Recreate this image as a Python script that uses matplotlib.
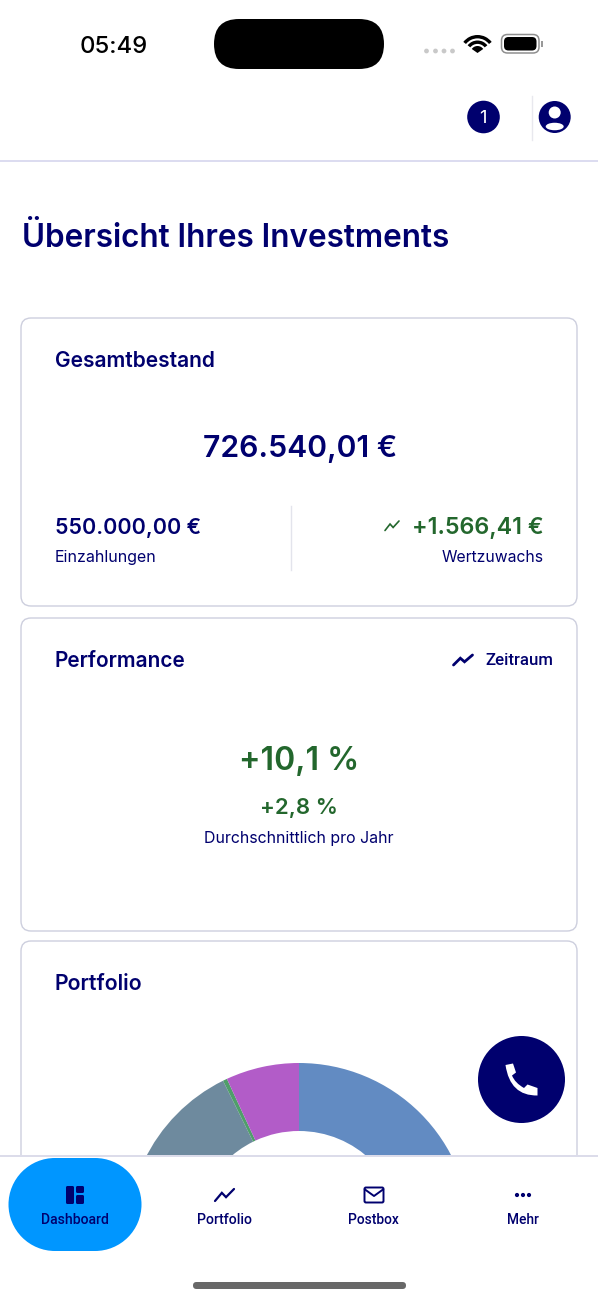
import matplotlib
matplotlib.use("Agg")
import matplotlib.pyplot as plt
from matplotlib.patches import FancyBboxPatch, Circle, Rectangle, Wedge, Ellipse, PathPatch
from matplotlib.path import Path

NAVY = "#00006E"
GREEN = "#23672D"
EDGE = "#CDCFDE"
FONT = ["Inter", "Roboto", "DejaVu Sans"]
NARROW = ["Roboto", "Inter", "DejaVu Sans"]

# Donut values (share of the full circle, clockwise from 12 o'clock; hidden part estimated)
portfolio_labels = ["Blue", "Grey", "Green", "Purple"]
portfolio_values = [50.0, 42.7, 0.4, 6.9]
portfolio_colors = ["#628BC2", "#6E8A9E", "#4F9E6A", "#B25CC8"]

nav_labels = ["Dashboard", "Portfolio", "Postbox", "Mehr"]

W, H = 598, 1300
fig = plt.figure(figsize=(W / 100, H / 100), dpi=100, facecolor="white")
ax = fig.add_axes([0, 0, 1, 1], zorder=1)
ax.set_xlim(0, W)
ax.set_ylim(H, 0)
ax.axis("off")
ax.patch.set_alpha(0)
renderer = fig.canvas.get_renderer()


def put(s, x0, x1, base, color=NAVY, weight=600, family=FONT, z=10):
    """Real text, sized so it spans x0..x1 with its baseline at base."""
    t = ax.text(x0, base, s, color=color, fontsize=20, fontweight=weight,
                family=family, ha="left", va="baseline", zorder=z)
    w = t.get_window_extent(renderer).width
    t.set_fontsize(20 * (x1 - x0) / w)
    return t


def rrect(x0, y0, x1, y1, r, fc="none", ec="none", lw=0, z=2):
    p = FancyBboxPatch((x0 + r, y0 + r), x1 - x0 - 2 * r, y1 - y0 - 2 * r,
                       boxstyle=f"round,pad={r},rounding_size={r}",
                       fc=fc, ec=ec, lw=lw, zorder=z)
    ax.add_patch(p)
    return p


def trend(x0, x1, y0, y1, color, lw, z=10):
    w, h = x1 - x0, y1 - y0
    ax.plot([x0, x0 + .36 * w, x0 + .58 * w, x1],
            [y1, y0 + .32 * h, y0 + .68 * h, y0],
            color=color, lw=lw, solid_capstyle="round", solid_joinstyle="miter", zorder=z)


# cards
rrect(21, 318, 577, 606, 10, fc="white", ec=EDGE, lw=1.0)
rrect(21, 618, 577, 931, 10, fc="white", ec=EDGE, lw=1.0)
rrect(21, 941, 577, 1250, 10, fc="white", ec=EDGE, lw=1.0)
ax.plot([291, 291], [506, 570], color="#E3E4EC", lw=1, zorder=3)

# donut
R, cx, cy = 171.6, 299, 1234.6
dax = fig.add_axes([(cx - R) / W, 1 - (cy + R) / H, 2 * R / W, 2 * R / H], zorder=2)
dax.pie(portfolio_values, colors=portfolio_colors, startangle=90, counterclock=False,
        radius=1, wedgeprops=dict(width=1 - 103.6 / R, lw=0))
dax.set_xlim(-1, 1)
dax.set_ylim(-1, 1)
dax.set_aspect("equal")
dax.axis("off")

# overlay axes on top of the donut for the navigation and floating button
top = fig.add_axes([0, 0, 1, 1], zorder=3)
top.set_xlim(0, W)
top.set_ylim(H, 0)
top.axis("off")
top.patch.set_alpha(0)
ax = top

# header
ax.add_patch(Rectangle((0, 0), W, 161, fc="white", ec="none", zorder=1))
ax.plot([0, W], [161, 161], color="#D2D2EC", lw=1.1, zorder=3)
put("05:49", 80, 148, 53, color="black", weight=500)
rrect(214, 19, 384, 69, 25, fc="black", z=5)
for x in (426.5, 435.5, 444, 452.5):
    ax.add_patch(Circle((x, 51), 2.4, fc="#C9C9C9", ec="none", zorder=5))
for r, (a0, a1) in zip((18, 12.5, 7), ((-142, -38), (-142, -38), (-145, -35))):
    ax.add_patch(Wedge((477.5, 53), r, a0, a1, width=3.4 if r > 8 else 7, fc="black", ec="none", zorder=5))
rrect(501.5, 34.5, 539, 53, 6, fc="white", ec="#8F8F8F", lw=1.1, z=5)
rrect(504, 37, 536.5, 50.5, 4.5, fc="black", z=6)
ax.add_patch(Rectangle((541, 41), 1.8, 6, fc="#999999", ec="none", zorder=5))
ax.add_patch(Circle((483.5, 117), 16.3, fc=NAVY, ec="none", zorder=5))
put("1", 479.5, 487, 123, color="white", weight=400)
ax.plot([532, 532], [96, 140], color="#E8E8EE", lw=1, zorder=3)
ax.add_patch(Circle((554.7, 117), 16, fc=NAVY, ec="none", zorder=5))
ax.add_patch(Circle((554.7, 112.5), 6, fc="white", ec="none", zorder=6))
ax.add_patch(Ellipse((554.7, 126.5), 18, 7.5, fc="white", ec="none", zorder=6))

# texts
put("Übersicht Ihres Investments", 22, 450, 247)
put("Gesamtbestand", 55, 215, 367)
put("726.540,01 €", 203, 397, 457)
put("550.000,00 €", 55, 200, 534)
put("Einzahlungen", 55, 156, 562, weight=400)
trend(385, 399, 521, 530.5, GREEN, 1.2)
put("+1.566,41 €", 412, 544, 534, color=GREEN)
put("Wertzuwachs", 442, 544, 562, weight=400)
put("Performance", 55, 186, 667)
trend(453.5, 472.5, 655, 665, NAVY, 2)
put("Zeitraum", 485, 553, 665, family=NARROW, weight=500)
put("+10,1 %", 239, 359, 770, color=GREEN)
put("+2,8 %", 260, 338, 814, color=GREEN)
put("Durchschnittlich pro Jahr", 204, 394, 843, weight=400)
put("Portfolio", 55, 143, 990)

# floating phone button
ax.add_patch(Circle((521.5, 1079.5), 43.5, fc=NAVY, ec="none", zorder=5))
phone = Path([(505.5, 1065), (513, 1063.5), (516, 1072.5), (512, 1075.5),
              (515, 1083), (524, 1088), (527.5, 1084.5), (537.5, 1088), (537.5, 1095.5),
              (510, 1096), (505.5, 1065), (505.5, 1065)],
             [Path.MOVETO, Path.LINETO, Path.LINETO, Path.LINETO,
              Path.CURVE3, Path.CURVE3, Path.LINETO, Path.LINETO, Path.LINETO,
              Path.CURVE3, Path.CURVE3, Path.CLOSEPOLY])
ax.add_patch(PathPatch(phone, fc="white", ec="none", zorder=6))

# bottom navigation
ax.add_patch(Rectangle((0, 1155), W, H - 1155, fc="white", ec="none", zorder=4))
ax.plot([0, W], [1155.5, 1155.5], color="#D2D2E4", lw=1.1, zorder=5)
# stadium-shaped active tab
ax.add_patch(Circle((55, 1204.5), 46.5, fc="#0096FF", ec="none", zorder=5))
ax.add_patch(Circle((95, 1204.5), 46.5, fc="#0096FF", ec="none", zorder=5))
ax.add_patch(Rectangle((55, 1158), 40, 93, fc="#0096FF", ec="none", zorder=5))
for s, (x0, x1) in zip(nav_labels, ((41, 109), (197, 252), (348, 399), (507, 539))):
    put(s, x0, x1, 1224, color=NAVY, family=NARROW, weight=500)
rrect(66, 1186, 74, 1204, 1.5, fc=NAVY, z=6)
rrect(76, 1186, 84, 1193, 1.5, fc=NAVY, z=6)
rrect(76, 1195, 84, 1204, 1.5, fc=NAVY, z=6)
trend(215, 234, 1189, 1201, NAVY, 1.6)
rrect(364.5, 1187.5, 383.5, 1202.5, 1.5, ec=NAVY, lw=1.4, z=6)
ax.plot([365, 374, 383], [1189.5, 1196, 1189.5], color=NAVY, lw=1.4, zorder=6)
for x in (517, 523, 529):
    ax.add_patch(Circle((x, 1195), 2.1, fc=NAVY, ec="none", zorder=6))
rrect(193, 1282, 406, 1289, 3.5, fc="#686868", z=6)

fig.savefig("out.png", dpi=100, facecolor="white")
